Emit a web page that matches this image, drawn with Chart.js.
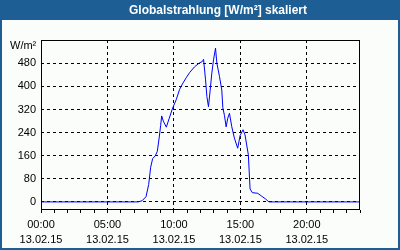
<!DOCTYPE html>
<html>
<head>
<meta charset="utf-8">
<script src="https://cdn.jsdelivr.net/npm/chart.js@4/dist/chart.umd.min.js"></script>
<style>
    html, body { margin: 0; padding: 0; background: #fafdfa; }
    #wrap { width: 400px; height: 250px; }
</style>
</head>
<body>
<div id="wrap"><canvas id="radiation-graph" width="400" height="250"></canvas></div>
<script>
// time of day in hours, 13.02.15
var hours = [0, 7.3, 7.6, 7.9, 8.1, 8.25, 8.4, 8.6, 8.75, 8.9, 9.0, 9.08, 9.2, 9.43, 9.65, 9.88,
    10.18, 10.43, 10.68, 10.95, 11.18, 11.55, 11.93, 12.13, 12.23, 12.38, 12.48, 12.6, 12.73, 12.85, 12.98,
    13.13, 13.23, 13.43, 13.6, 13.68, 13.8, 13.93, 14.05, 14.18, 14.35, 14.55, 14.8, 14.98,
    15.2, 15.35, 15.6, 15.73, 15.9, 16.3, 16.6, 16.9, 17.15, 24];
// global radiation W/m²
var radiation = [0, 0, 4, 18, 60, 120, 150, 160, 175, 225, 265, 298, 280, 259, 290, 322,
    355, 390, 412, 432, 448, 468, 482, 486, 494, 423, 365, 330, 388, 446, 492,
    533, 481, 434, 388, 326, 300, 260, 290, 307, 261, 221, 186, 230,
    250, 232, 163, 45, 32, 30, 20, 10, 0, 0];

var yTicks = [0, 80, 160, 240, 320, 400, 480];
var dateLabel = '13.02.15';
var chartTitle = 'Globalstrahlung [W/m²] skaliert';
var unitLabel = 'W/m²';

function pad2(n) {
    return (n < 10 ? '0' : '') + n;
}

var points = hours.map(function (h, i) {
    return {x: h, y: radiation[i]};
});

var framePlugin = {
    id: 'frame',
    beforeDraw: function (chart) {
        var ctx = chart.ctx;
        ctx.save();
        ctx.fillStyle = '#fafdfa';
        ctx.fillRect(0, 0, 400, 250);
        ctx.fillStyle = '#1d5e94';
        ctx.fillRect(0, 0, 400, 20);
        ctx.strokeStyle = '#1d5e94';
        ctx.lineWidth = 2;
        ctx.strokeRect(1, 1, 398, 248);
        ctx.fillStyle = '#ffffff';
        ctx.font = 'bold 12px "Liberation Sans"';
        ctx.textAlign = 'center';
        ctx.textBaseline = 'middle';
        ctx.fillText(chartTitle, 218, 11);
        ctx.fillStyle = '#000000';
        ctx.font = '11px "Liberation Sans"';
        ctx.textAlign = 'left';
        ctx.fillText(unitLabel, 10, 46);
        ctx.restore();
    },
    afterDatasetsDraw: function (chart) {
        var a = chart.chartArea;
        var ctx = chart.ctx;
        ctx.save();
        ctx.strokeStyle = '#000000';
        ctx.lineWidth = 1;
        ctx.strokeRect(Math.round(a.left) + 0.5, Math.round(a.top) + 0.5,
            Math.round(a.right - a.left) - 1, Math.round(a.bottom - a.top) - 1);
        ctx.restore();
    }
};

var ctx = document.getElementById('radiation-graph').getContext('2d');

var chart = new Chart(ctx, {
    type: 'line',
    data: {
        datasets: [{
            data: points,
            borderColor: '#0000ff',
            borderWidth: 1,
            pointRadius: 0,
            tension: 0,
            fill: false
        }]
    },
    options: {
        responsive: false,
        animation: false,
        layout: {
            padding: {left: 0, right: 40, top: 40, bottom: 0}
        },
        scales: {
            x: {
                type: 'linear',
                min: 0,
                max: 24,
                afterBuildTicks: function (scale) {
                    var t = [];
                    for (var h = 0; h <= 24; h++) t.push({value: h});
                    scale.ticks = t;
                },
                afterFit: function (scale) {
                    scale.height = 40;
                },
                border: {display: false, dash: [3, 3]},
                grid: {
                    color: function (c) {
                        var v = c.tick ? c.tick.value : 0;
                        return (v % 5 === 0 && v > 0 && v < 24) ? '#000000' : 'rgba(0,0,0,0)';
                    },
                    tickColor: '#000000',
                    tickLength: 3,
                    tickBorderDash: [],
                    lineWidth: 1
                },
                ticks: {
                    autoSkip: false,
                    maxRotation: 0,
                    padding: 5,
                    color: '#000000',
                    font: {family: 'Liberation Sans', size: 11, lineHeight: 1.35},
                    callback: function (v) {
                        if (v % 5 !== 0 || v >= 24) return '';
                        return [pad2(v) + ':00', dateLabel];
                    }
                }
            },
            y: {
                min: -28,
                max: 561,
                afterBuildTicks: function (scale) {
                    scale.ticks = yTicks.map(function (v) { return {value: v}; });
                },
                afterFit: function (scale) {
                    scale.width = 41;
                },
                border: {display: false, dash: [3, 3]},
                grid: {
                    color: '#000000',
                    drawTicks: false,
                    lineWidth: 1
                },
                ticks: {
                    padding: 5,
                    color: '#000000',
                    font: {family: 'Liberation Sans', size: 11}
                }
            }
        },
        plugins: {
            legend: {display: false},
            tooltip: {enabled: false},
            title: {display: false}
        }
    },
    plugins: [framePlugin]
});
</script>
</body>
</html>
